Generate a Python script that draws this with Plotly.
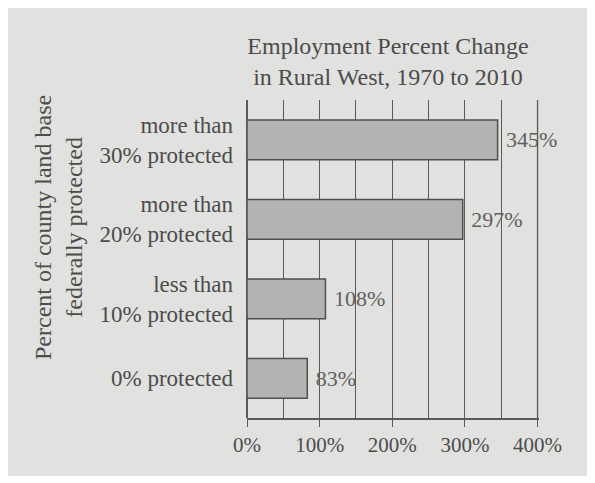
import plotly.graph_objects as go

categories = ["0% protected", "less than<br>10% protected", "more than<br>20% protected", "more than<br>30% protected"]
values = [83, 108, 297, 345]
value_labels = ["83%", "108%", "297%", "345%"]
tick_vals = [0, 100, 200, 300, 400]
tick_text = ["0%", "100%", "200%", "300%", "400%"]

# page body has an 8px margin, so the figure is drawn 8px smaller
W, H = 587, 475
ML, MR, MT, MB = 239, 56, 92, 65
BG = "#e1e1df"
TXT = "#4c4c4c"
FONT = "Liberation Serif"
GRID = "#5a5a5a"

fig = go.Figure()
fig.add_trace(go.Bar(
    x=values, y=categories, orientation="h",
    marker=dict(color="#b3b3b1", line=dict(color="#4f4f4f", width=1.5)),
    width=0.5,
    text=value_labels, texttemplate=" %{text}", textposition="outside",
    textfont=dict(family=FONT, size=22, color="#606060"),
    cliponaxis=False,
))

pw = W - ML - MR
ph = H - MT - MB
fig.add_shape(type="rect", xref="paper", yref="paper", layer="below",
              x0=(0 - ML) / pw, x1=(W - 4 - ML) / pw,
              y0=-(H - 7 - MT - ph) / ph, y1=1 + MT / ph,
              fillcolor=BG, line=dict(width=0))
# gridline at the last tick (plotly omits it at the plot edge)
fig.add_shape(type="line", xref="x", yref="paper", layer="below",
              x0=tick_vals[-1], x1=tick_vals[-1], y0=0, y1=1,
              line=dict(color=GRID, width=1.3))

fig.add_annotation(text="Percent of county land base<br>federally protected",
                   textangle=-90, xref="paper", yref="paper",
                   x=(50 - ML) / pw, y=1 - (220 - MT) / ph,
                   xanchor="center", yanchor="middle", showarrow=False,
                   font=dict(family=FONT, size=24, color=TXT))

fig.update_layout(
    width=W, height=H,
    margin=dict(l=ML, r=MR, t=MT, b=MB, autoexpand=False),
    paper_bgcolor="white", plot_bgcolor="rgba(0,0,0,0)",
    font=dict(family=FONT, color=TXT, size=20),
    showlegend=False,
    title=dict(text="Employment Percent Change<br>in Rural West, 1970 to 2010",
               x=380 / W, xanchor="center", y=1 - 46 / H, yanchor="top",
               font=dict(family=FONT, size=24, color=TXT)),
    xaxis=dict(range=[0, 402], tickvals=tick_vals, ticktext=tick_text,
               showgrid=True, gridcolor=GRID, gridwidth=1.3,
               minor=dict(dtick=50, tick0=0, showgrid=True, gridcolor=GRID, gridwidth=1.3, ticks=""),
               ticks="outside", ticklen=7, tickcolor=GRID, tickwidth=1.3,
               showline=True, linecolor=GRID, linewidth=1.5,
               zeroline=True, zerolinecolor=GRID, zerolinewidth=1.5,
               automargin=False,
               tickfont=dict(family=FONT, size=21, color=TXT), fixedrange=True),
    yaxis=dict(categoryorder="array", categoryarray=categories,
               range=[-0.5, 3.5], showgrid=False, ticks="", ticklabelstandoff=13,
               automargin=False,
               tickfont=dict(family=FONT, size=23, color=TXT)),
)

fig.write_html("out.html")
